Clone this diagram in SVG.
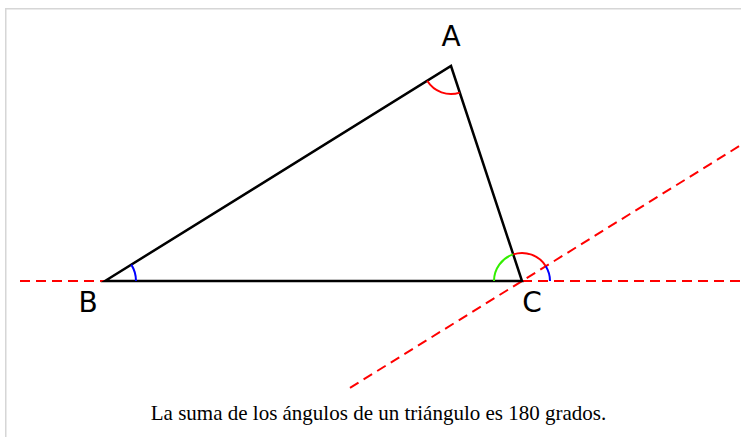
<svg xmlns="http://www.w3.org/2000/svg" width="741" height="437" viewBox="0 0 741 437">
<style>
.frame{fill:none;stroke:#d6d6d6;stroke-width:1.5}
.side{fill:none;stroke:#000;stroke-width:2.5;stroke-linejoin:miter}
.dash{fill:none;stroke:#ff0000;stroke-width:2;stroke-dasharray:10,6}
.arc{fill:none;stroke-width:2}
.red{stroke:#ff0000}.blue{stroke:#0000ff}.green{stroke:#33ee00}
.lbl{font-family:"DejaVu Sans",sans-serif;font-size:28px;fill:#000;text-anchor:middle}
.cap{font-family:"Liberation Serif","Times New Roman",serif;font-size:21px;fill:#000;text-anchor:middle}
</style>
<rect width="741" height="437" fill="#fff"/>
<path class="frame" d="M5.75,437 V8.75 H741"/>
<g id="connectors">
<path class="dash" d="M20,281 H105"/>
<path class="dash" d="M522,281 H741"/>
<path class="dash" d="M350,387.9 L740,145.6"/>
</g>
<g id="triangle">
<path class="side" d="M105,281 L451,66 L522,281 Z"/>
</g>
<g id="angles">
<path class="arc red" d="M427.2,80.8 A28,28 0 0 0 459.8,92.6"/>
<path class="arc blue" d="M131.3,264.6 A31,31 0 0 1 136,281"/>
<path class="arc green" d="M494,281 A28,28 0 0 1 513.2,254.4"/>
<path class="arc red" d="M513.2,254.4 A28,28 0 0 1 545.8,266.2"/>
<path class="arc blue" d="M545.8,266.2 A28,28 0 0 1 550,281"/>
</g>
<g id="A"><text class="lbl" x="451" y="46">A</text></g>
<g id="B"><text class="lbl" x="88" y="312">B</text></g>
<g id="C"><text class="lbl" x="532" y="312">C</text></g>
<g id="caption"><text class="cap" x="378.5" y="420">La suma de los ángulos de un triángulo es 180 grados.</text></g>
</svg>
